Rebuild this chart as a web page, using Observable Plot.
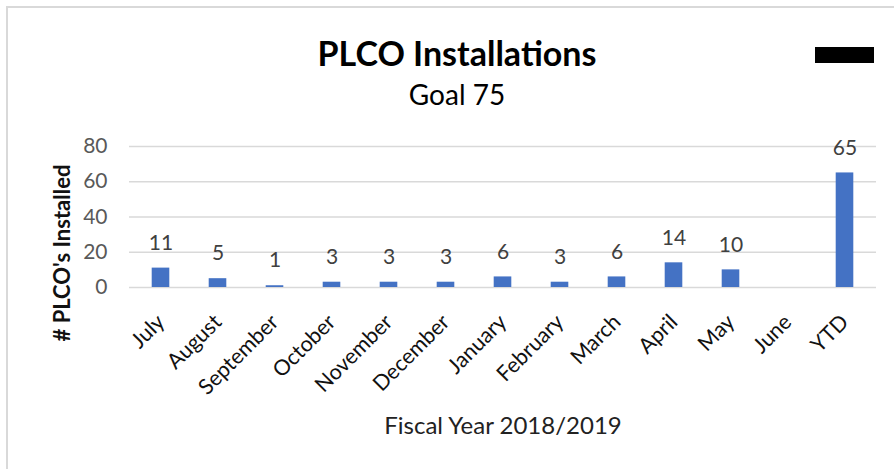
<!DOCTYPE html>
<html><head><meta charset="utf-8">
<script src="https://cdn.jsdelivr.net/npm/d3@7"></script>
<script src="https://cdn.jsdelivr.net/npm/@observablehq/plot@0.6"></script>
<style>
body{margin:0;background:#fff;font-family:Lato,"Open Sans",sans-serif;}
#wrap{position:relative;width:894px;height:469px;overflow:hidden;background:#fff;}
#bt{position:absolute;left:6px;top:6px;width:900px;height:2px;background:#d9d9d9;}
#bl{position:absolute;left:6px;top:6px;width:2px;height:480px;background:#d9d9d9;}
#title{position:absolute;left:457px;top:32px;transform:translateX(-50%);font-size:34px;font-weight:700;color:#000;white-space:nowrap;}
#sub{position:absolute;left:457px;top:77px;transform:translateX(-50%);font-size:28px;color:#000;white-space:nowrap;}
#blk{position:absolute;left:815px;top:47px;width:59px;height:16px;background:#000;}
#chart{position:absolute;left:0;top:130px;}
</style></head><body>
<div id="wrap">
  <div id="bt"></div><div id="bl"></div>
  <div id="title">PLCO Installations</div>
  <div id="sub">Goal 75</div>
  <div id="blk"></div>
  <div id="chart"></div>
</div>
<script>
const months = ["July","August","September","October","November","December","January","February","March","April","May","June","YTD"];
const installs = [11,5,1,3,3,3,6,3,6,14,10,null,65];
const yTicks = [0,20,40,60,80];
const yTitle = "# PLCO's Installed";
const xTitle = "Fiscal Year 2018/2019";

const data = months.map((m,i)=>({month:m, value:installs[i]}));

const chart = Plot.plot({
  width: 894, height: 339,
  marginTop: 16, marginBottom: 182, marginLeft: 129, marginRight: 18,
  style: {fontFamily: "Lato, 'Open Sans', sans-serif", background: "transparent", overflow: "visible"},
  x: {domain: months, padding: 0, label: null},
  y: {domain: [0, 80], label: null},
  marks: [
    Plot.ruleY(yTicks, {stroke: "#d9d9d9", strokeWidth: 1.5}),
    Plot.barY(data.filter(d=>d.value!=null), {x: "month", y: "value", fill: "#4472C4", insetLeft: 19.7, insetRight: 19.7}),
    Plot.text(data.filter(d=>d.value!=null), {x: "month", y: "value", text: d=>String(d.value), dy: -25, fontSize: 21, fill: "#404040"}),
    Plot.axisY({ticks: yTicks, tickSize: 0, tickPadding: 22, fontSize: 21, color: "#595959", label: null}),
    Plot.axisX({tickSize: 0, tickRotate: -45, tickPadding: 31, fontSize: 21.5, color: "#111", label: null}),
    Plot.text([yTitle], {text: d=>d, frameAnchor: "left", textAnchor: "middle", dx: -67, dy: 36, rotate: -90, fontSize: 22, fontWeight: 700, fill: "#111"}),
    Plot.text([xTitle], {text: d=>d, frameAnchor: "bottom", dy: 146, fontSize: 24, fill: "#222"})
  ]
});
document.getElementById("chart").appendChild(chart);
</script>
</body></html>
